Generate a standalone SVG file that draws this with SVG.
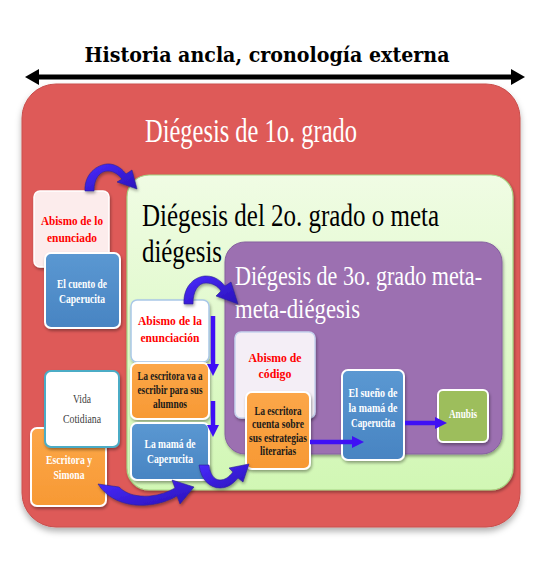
<svg xmlns="http://www.w3.org/2000/svg" width="537" height="579" viewBox="0 0 537 579">
<defs>
<filter id="sh" x="-20%" y="-20%" width="140%" height="140%"><feDropShadow dx="1" dy="2" stdDeviation="1.5" flood-color="#000" flood-opacity="0.35"/></filter>
<filter id="shb" x="-10%" y="-10%" width="120%" height="120%"><feDropShadow dx="0" dy="4" stdDeviation="3" flood-color="#000" flood-opacity="0.3"/></filter>
<linearGradient id="gGreen" x1="0" y1="0" x2="0" y2="1"><stop offset="0" stop-color="#F0FCE4"/><stop offset="1" stop-color="#D1F7B4"/></linearGradient>
<linearGradient id="gBlue" x1="0" y1="0" x2="0" y2="1"><stop offset="0" stop-color="#5B98D2"/><stop offset="1" stop-color="#4884C2"/></linearGradient>
<linearGradient id="gOrange" x1="0" y1="0" x2="0" y2="1"><stop offset="0" stop-color="#FCA749"/><stop offset="1" stop-color="#F79934"/></linearGradient>
<linearGradient id="gArrow" x1="0" y1="0" x2="1" y2="1"><stop offset="0" stop-color="#4A2BFF"/><stop offset="1" stop-color="#2A12B8"/></linearGradient>
<marker id="ah" viewBox="0 0 12 12" markerWidth="12" markerHeight="12" refX="1" refY="6" orient="auto" markerUnits="userSpaceOnUse"><path d="M0,0 L12,6 L0,12 z" fill="#3F10F5"/></marker>
<marker id="bk" viewBox="0 0 14 16" markerWidth="14" markerHeight="16" refX="1" refY="8" orient="auto-start-reverse" markerUnits="userSpaceOnUse"><path d="M0,0 L14,8 L0,16 z" fill="#000"/></marker>
<style>
.t{font-family:"Liberation Serif","DejaVu Serif",serif;font-weight:bold;font-size:13.5px;text-anchor:middle}
.sm{font-size:12.5px}
.reg{font-weight:normal;fill:#404040}
.red{fill:#FF0000}
.wh{fill:#FFFFFF}
.dk{fill:#1A1A1A}
.big{font-family:"Liberation Serif","DejaVu Serif",serif}
.nb{stroke:#FFFFFF;stroke-width:2;filter:url(#sh)}
.cur{fill:url(#gArrow);stroke:#2B2490;stroke-width:0.6;filter:url(#sh)}
.st{stroke:#3F10F5;stroke-width:4.5;fill:none;marker-end:url(#ah)}
</style>
</defs>
<rect width="537" height="579" fill="#FFFFFF"/>

<g id="title">
<text x="267" y="62" font-family="'DejaVu Serif',serif" font-weight="bold" font-size="20" text-anchor="middle" textLength="365" lengthAdjust="spacingAndGlyphs" fill="#000">Historia ancla, cronología externa</text>
<line x1="38" y1="77" x2="512" y2="77" stroke="#000" stroke-width="5" marker-start="url(#bk)" marker-end="url(#bk)"/>
</g>

<g id="diegesis1">
<rect x="22" y="84" width="498" height="443" rx="34" fill="#DE5A58" stroke="#C94E4C" stroke-width="1" filter="url(#shb)"/>
<text class="big" x="145" y="142" font-size="34" fill="#FFFFFF" textLength="212" lengthAdjust="spacingAndGlyphs">Diégesis de 1o. grado</text>
</g>

<g id="diegesis2">
<rect x="127" y="175" width="386" height="315" rx="22" fill="url(#gGreen)" stroke="#A6D584" stroke-width="1.2" filter="url(#sh)"/>
<text class="big" x="142" y="226" font-size="32" fill="#000" textLength="297" lengthAdjust="spacingAndGlyphs">Diégesis del 2o. grado o meta</text>
<text class="big" x="142" y="262" font-size="32" fill="#000" textLength="80" lengthAdjust="spacingAndGlyphs">diégesis</text>
</g>

<g id="diegesis3">
<rect x="225" y="242" width="277" height="212" rx="20" fill="#9C70B1" stroke="#8560A0" stroke-width="1" filter="url(#sh)"/>
<text class="big" x="235" y="285" font-size="27" fill="#FFFFFF" textLength="247" lengthAdjust="spacingAndGlyphs">Diégesis de 3o. grado meta-</text>
<text class="big" x="235" y="318" font-size="27" fill="#FFFFFF" textLength="125" lengthAdjust="spacingAndGlyphs">meta-diégesis</text>
</g>

<g id="abismo-enunciado">
<rect x="34" y="191" width="75" height="76" rx="6" fill="#FCECEC" stroke="#FFFFFF" stroke-width="1.5" filter="url(#sh)"/>
<text class="t red" x="72" y="225" textLength="62" lengthAdjust="spacingAndGlyphs">Abismo de lo</text>
<text class="t red" x="72" y="242" textLength="50" lengthAdjust="spacingAndGlyphs">enunciado</text>
</g>

<g id="cuento">
<rect x="45" y="253" width="75" height="75" rx="6" fill="url(#gBlue)" class="nb"/>
<text class="t wh" x="82" y="288" textLength="50" lengthAdjust="spacingAndGlyphs">El cuento de</text>
<text class="t wh" x="82" y="303" textLength="46" lengthAdjust="spacingAndGlyphs">Caperucita</text>
</g>

<g id="abismo-enunciacion">
<rect x="131" y="300" width="78" height="62" rx="6" fill="#FFFFFF" stroke="#A9C8E8" stroke-width="1.5" filter="url(#sh)"/>
<text class="t red" x="170" y="325" textLength="64" lengthAdjust="spacingAndGlyphs">Abismo de la</text>
<text class="t red" x="170" y="342" textLength="59" lengthAdjust="spacingAndGlyphs">enunciación</text>
</g>

<g id="escritora-va">
<rect x="131" y="363" width="78" height="56" rx="6" fill="url(#gOrange)" class="nb"/>
<text class="t sm dk" x="170" y="380" textLength="65" lengthAdjust="spacingAndGlyphs">La escritora va a</text>
<text class="t sm dk" x="170" y="394" textLength="65" lengthAdjust="spacingAndGlyphs">escribir para sus</text>
<text class="t sm dk" x="170" y="408" textLength="34" lengthAdjust="spacingAndGlyphs">alumnos</text>
</g>

<g id="mama">
<rect x="131" y="423" width="78" height="57" rx="6" fill="url(#gBlue)" class="nb"/>
<text class="t wh" x="170" y="448" textLength="51" lengthAdjust="spacingAndGlyphs">La mamá de</text>
<text class="t wh" x="170" y="463" textLength="46" lengthAdjust="spacingAndGlyphs">Caperucita</text>
</g>

<g id="escritora-simona">
<rect x="31" y="428" width="75" height="78" rx="6" fill="url(#gOrange)" class="nb"/>
<text class="t wh" x="69" y="464" textLength="46" lengthAdjust="spacingAndGlyphs">Escritora y</text>
<text class="t wh" x="69" y="479" textLength="31" lengthAdjust="spacingAndGlyphs">Simona</text>
</g>

<g id="vida">
<rect x="45" y="371" width="74" height="76" rx="6" fill="#FFFFFF" stroke="#4BACC6" stroke-width="2" filter="url(#sh)"/>
<text class="t reg" x="82" y="403" textLength="18" lengthAdjust="spacingAndGlyphs">Vida</text>
<text class="t reg" x="82" y="423" textLength="38" lengthAdjust="spacingAndGlyphs">Cotidiana</text>
</g>

<g id="abismo-codigo">
<rect x="235" y="332" width="80" height="86" rx="6" fill="#F4EEF6" stroke="#C6D4EE" stroke-width="1.5" filter="url(#sh)"/>
<text class="t red" x="275" y="362" textLength="53" lengthAdjust="spacingAndGlyphs">Abismo de</text>
<text class="t red" x="275" y="378" textLength="33" lengthAdjust="spacingAndGlyphs">código</text>
</g>

<g id="escritora-cuenta">
<rect x="246" y="392" width="64" height="77" rx="6" fill="url(#gOrange)" class="nb"/>
<text class="t sm dk" x="278" y="415" textLength="47" lengthAdjust="spacingAndGlyphs">La escritora</text>
<text class="t sm dk" x="278" y="428" textLength="52" lengthAdjust="spacingAndGlyphs">cuenta sobre</text>
<text class="t sm dk" x="278" y="442" textLength="58" lengthAdjust="spacingAndGlyphs">sus estrategias</text>
<text class="t sm dk" x="278" y="455" textLength="36" lengthAdjust="spacingAndGlyphs">literarias</text>
</g>

<g id="sueno">
<rect x="342" y="370" width="62" height="90" rx="6" fill="url(#gBlue)" class="nb"/>
<text class="t wh" x="373" y="397" textLength="49" lengthAdjust="spacingAndGlyphs">El sueño de</text>
<text class="t wh" x="373" y="412" textLength="49" lengthAdjust="spacingAndGlyphs">la mamá de</text>
<text class="t wh" x="373" y="427" textLength="44" lengthAdjust="spacingAndGlyphs">Caperucita</text>
</g>

<g id="anubis">
<rect x="438" y="390" width="50" height="52" rx="5" fill="#9DBE5C" class="nb"/>
<text class="t wh" x="463" y="418" textLength="28" lengthAdjust="spacingAndGlyphs">Anubis</text>
</g>

<g id="connectors">
<path class="cur" d="M85 191 C84 172,100 163,110 164 C118 165,123 170,126 174 L132 170 L137 189 L117 182 L122 179 C118 174,113 171,108 171 C100 171,94 178,94 191 Z"/>
<path class="cur" d="M184 304 C183 285,196 276,206 276 C215 276,221 281,225 286 L231 282 L238 304 L216 296 L221 291 C218 286,212 283,206 283 C198 283,193 291,193 304 Z"/>
<path class="cur" d="M98 484 C108 500,128 507,148 505 C160 504,170 500,177 496 L180 504 L194 487 L172 480 L175 488 C168 492,160 495,150 496 C136 497,126 494,119 487 Z"/>
<path class="cur" d="M199 465 C201 480,210 488,220 488 C228 488,234 483,238 478 L243 482 L249 464 L229 468 L233 472 C229 477,225 480,220 480 C214 480,210 474,209 465 Z"/>
<line class="st" x1="213" y1="316" x2="213" y2="365"/>
<line class="st" x1="213" y1="401" x2="213" y2="426"/>
<line class="st" x1="310" y1="442" x2="353" y2="442"/>
<line class="st" x1="405" y1="423" x2="436" y2="423"/>
</g>
</svg>
